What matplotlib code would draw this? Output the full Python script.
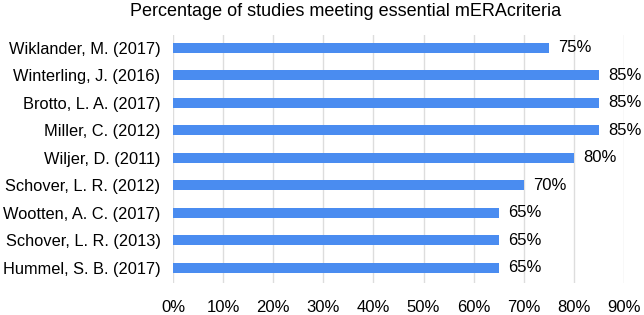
import matplotlib.pyplot as plt

plt.rcParams['font.family'] = ['Liberation Sans', 'DejaVu Sans']

studies = ["Wiklander, M. (2017)", "Winterling, J. (2016)", "Brotto, L. A. (2017)",
           "Miller, C. (2012)", "Wiljer, D. (2011)", "Schover, L. R. (2012)",
           "Wootten, A. C. (2017)", "Schover, L. R. (2013)", "Hummel, S. B. (2017)"]
percent = [75, 85, 85, 85, 80, 70, 65, 65, 65]
xticks = [0, 10, 20, 30, 40, 50, 60, 70, 80, 90]

fig = plt.figure(figsize=(6.44, 3.15), dpi=100)
ax = fig.add_axes([0.2686, 0.1016, 0.7004, 0.7874])

pos = list(range(len(studies)))
ax.barh(pos, percent, height=0.37, color="#4a8cf0", zorder=2)
for y, v in zip(pos, percent):
    ax.text(v + 1.8, y, f"{v}%", va="center", ha="left", fontsize=12)

ax.set_yticks(pos)
ax.set_yticklabels(studies, fontsize=11.8)
ax.set_ylim(8.55, -0.47)
ax.set_xlim(0, 90)
ax.set_xticks(xticks)
ax.set_xticklabels([f"{t}%" for t in xticks], fontsize=12)
ax.tick_params(axis="y", length=0, pad=9)
ax.tick_params(axis="x", length=0, pad=12)
ax.grid(True, axis="x", color="#dddddd", linewidth=1, zorder=0)
for s in ax.spines.values():
    s.set_visible(False)

fig.text(0.537, 0.962, "Percentage of studies meeting essential mERAcriteria",
         ha="center", va="center", fontsize=13)

fig.savefig("out.png", dpi=100)
